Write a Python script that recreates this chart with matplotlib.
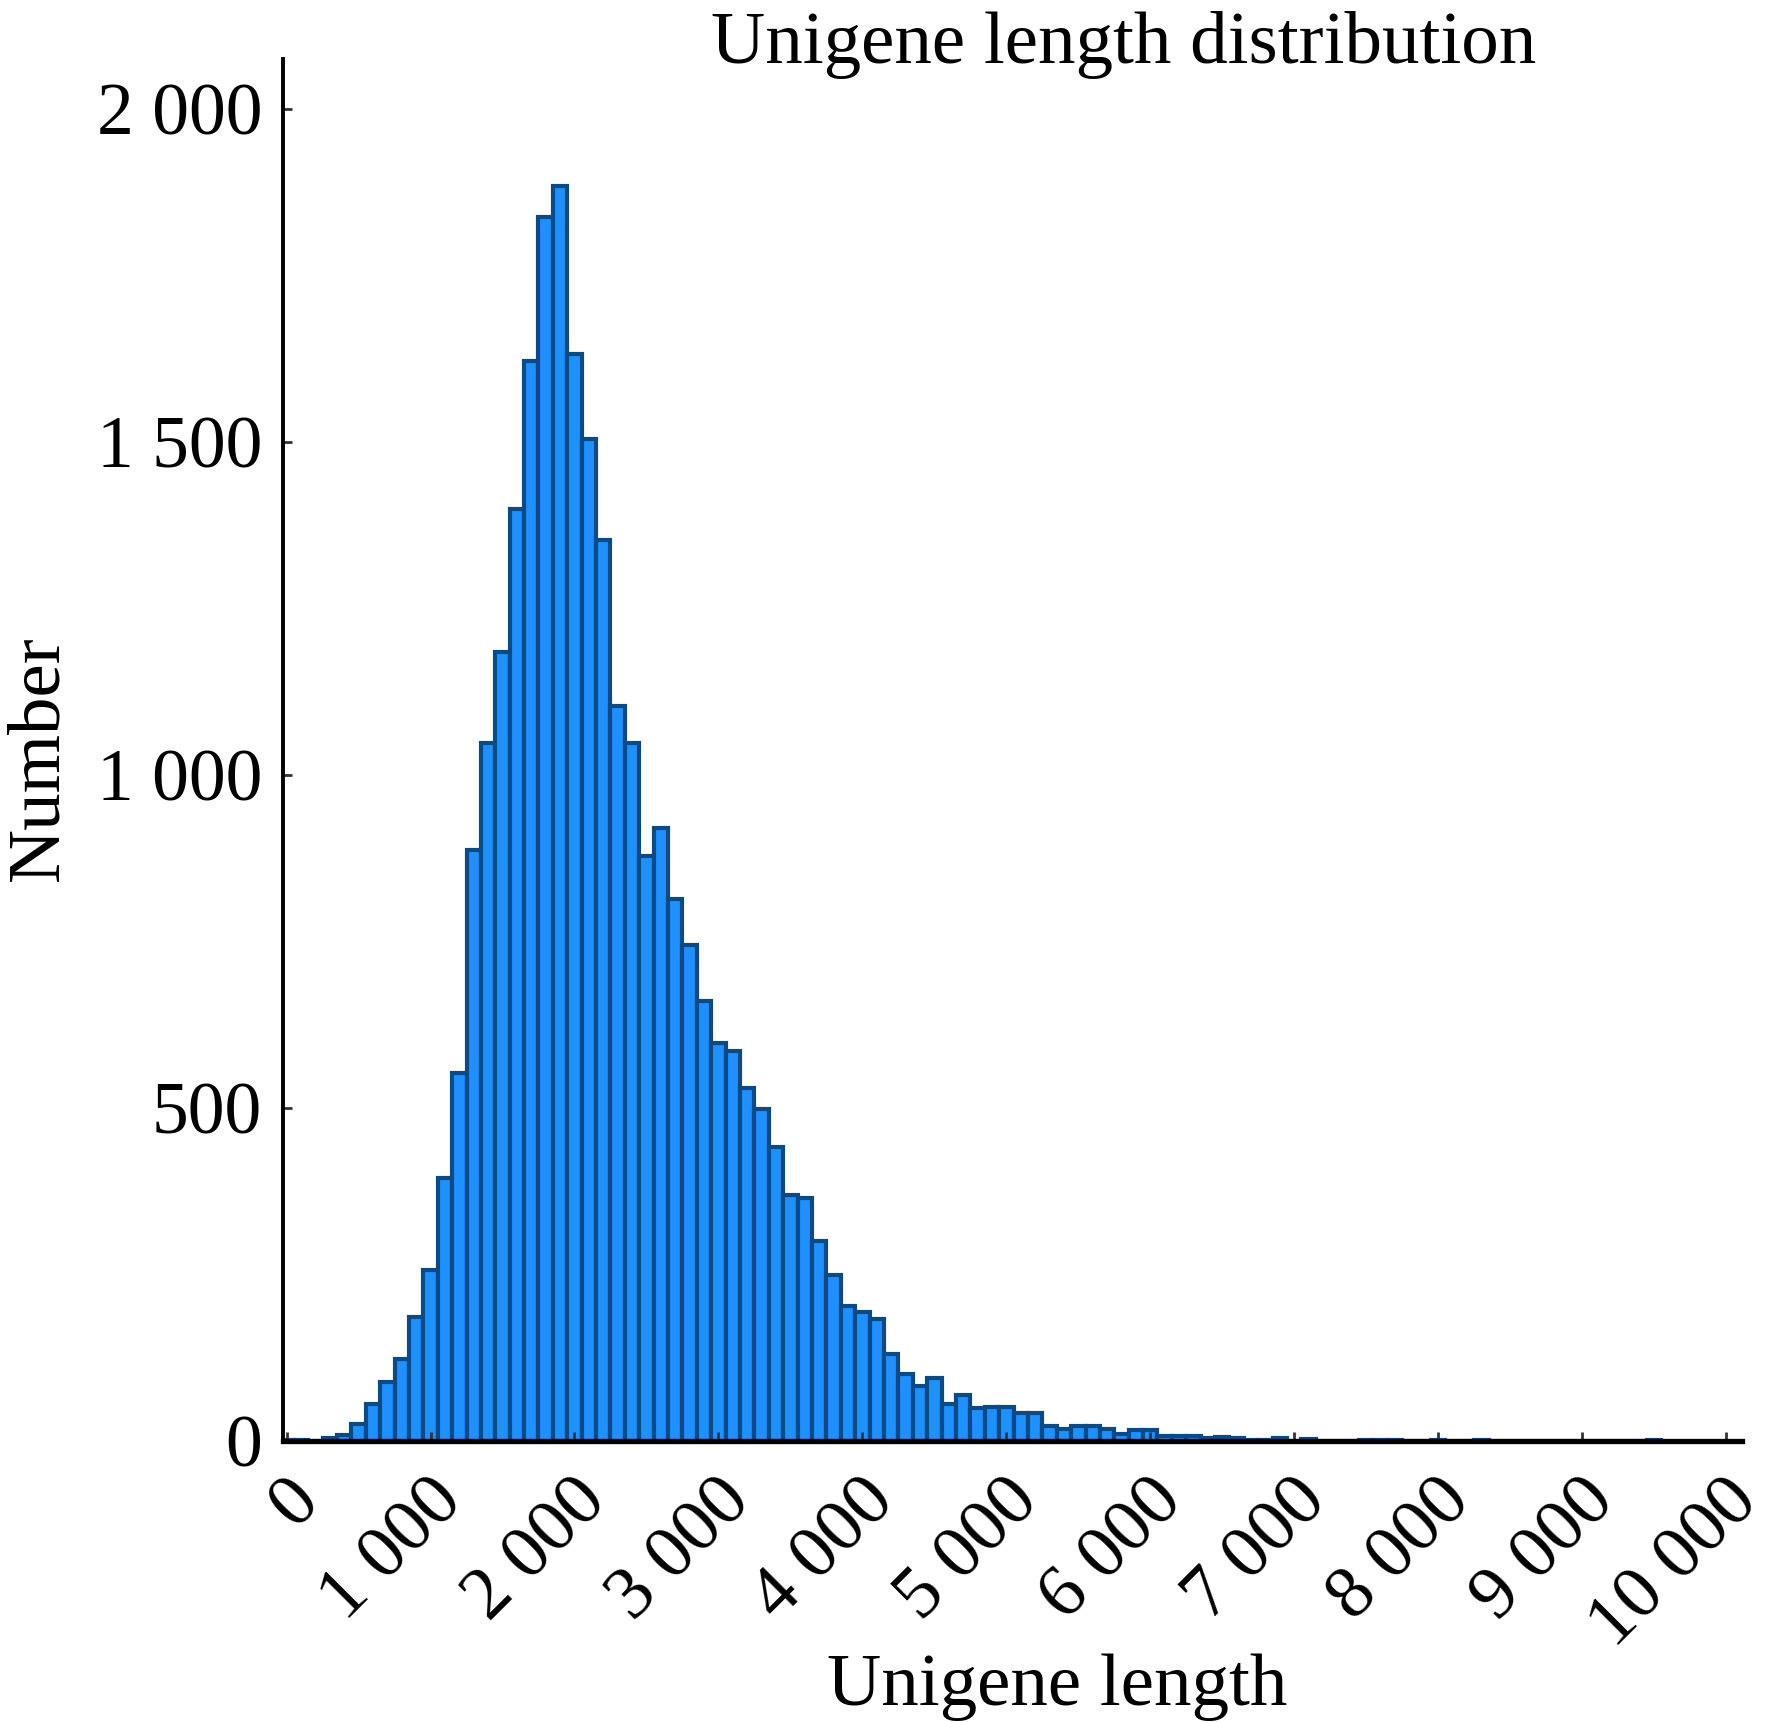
import numpy as np
import matplotlib
matplotlib.use("Agg")
import matplotlib.pyplot as plt
from matplotlib.transforms import ScaledTranslation

# histogram counts, bins of 100 bp centred on 0, 100, ..., 9500
bin_width = 100
counts = [1, 2, 0, 4, 9, 25, 56, 89, 123, 186,
          256, 395, 552, 888, 1048, 1185, 1400, 1622, 1838, 1884,
          1632, 1504, 1353, 1103, 1048, 879, 921, 814, 744, 661,
          598, 585, 530, 499, 442, 370, 365, 300, 249, 203,
          193, 183, 130, 101, 82, 94, 55, 69, 50, 51,
          51, 42, 42, 23, 18, 22, 23, 18, 11, 17,
          17, 8, 7, 7, 5, 6, 4, 2, 2, 5,
          0, 3, 0, 0, 0, 2, 2, 2, 0, 0,
          1, 0, 0, 1, 0, 0, 0, 0, 0, 0,
          0, 0, 0, 0, 0, 1]
bin_centers = np.arange(len(counts)) * bin_width

x_ticks = [0, 1000, 2000, 3000, 4000, 5000, 6000, 7000, 8000, 9000, 10000]
x_labels = ["0", "1 000", "2 000", "3 000", "4 000", "5 000",
            "6 000", "7 000", "8 000", "9 000", "10 000"]
y_ticks = [0, 500, 1000, 1500, 2000]
y_labels = ["0", "500", "1 000", "1 500", "2 000"]

plt.rcParams["font.family"] = ["Liberation Serif", "DejaVu Serif"]

fig = plt.figure(figsize=(17.91, 17.22), dpi=100)
ax = fig.add_axes([0.158, 0.1632, 0.8146, 0.8025])

ax.bar(bin_centers, counts, width=bin_width, color="#1E90FF",
       edgecolor="#0B4A85", linewidth=3.0)

ax.set_xlim(-25, 10110)
ax.set_ylim(0, 2075)

for side in ["top", "right"]:
    ax.spines[side].set_visible(False)
ax.spines["left"].set_linewidth(2.8)
ax.spines["bottom"].set_linewidth(3.8)

ax.set_yticks(y_ticks)
ax.set_yticklabels(y_labels, fontsize=53)
ax.set_xticks(x_ticks)
ax.set_xticklabels(x_labels, fontsize=54, rotation=45, ha="right",
                   va="center", rotation_mode="anchor")
ax.tick_params(axis="both", direction="in", length=6.5, width=2.0,
               color="#333333")
ax.tick_params(axis="y", pad=15)
ax.tick_params(axis="x", pad=36)

shift = ScaledTranslation(0.22, 0, fig.dpi_scale_trans)
for lbl in ax.get_xticklabels():
    lbl.set_transform(lbl.get_transform() + shift)

fig.text(1124 / 1791, 1 - 63 / 1722, "Unigene length distribution",
         fontsize=54, ha="center", va="baseline")
fig.text(1057 / 1791, 1 - 1705 / 1722, "Unigene length",
         fontsize=54, ha="center", va="baseline")
fig.text(40 / 1791, 1 - 758 / 1722, "Number", fontsize=54,
         rotation=90, ha="center", va="center")

fig.savefig("out.png", dpi=100)
